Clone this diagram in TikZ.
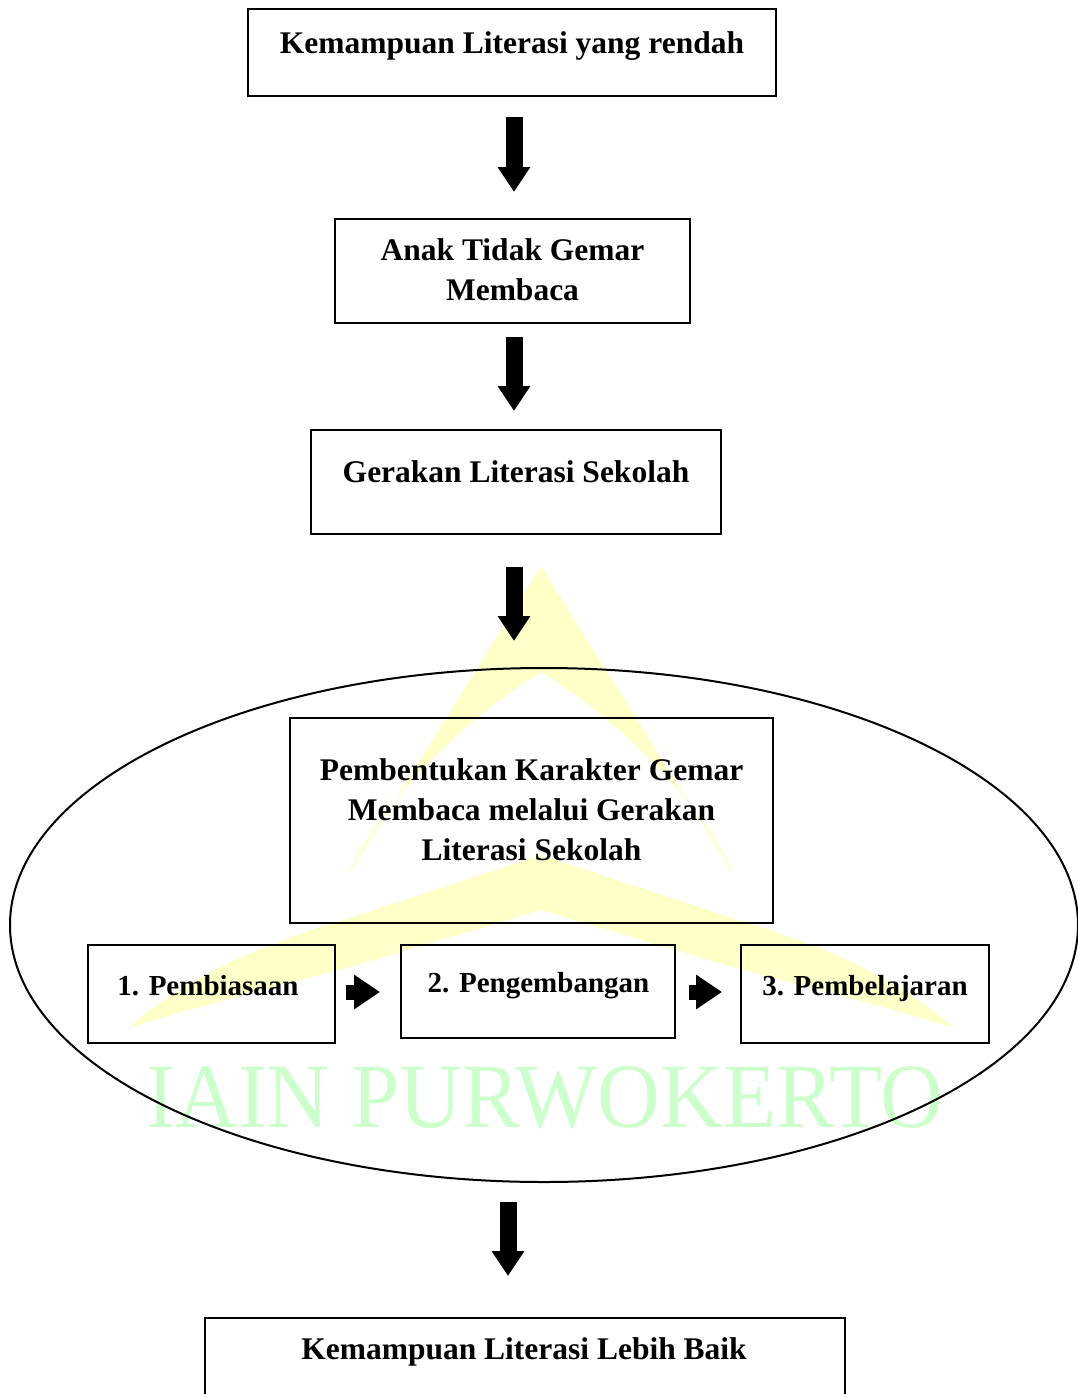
\documentclass[tikz,border=0pt]{standalone}
\usepackage{fontspec}
\setmainfont{Liberation Serif}
\usetikzlibrary{arrows.meta,shapes.geometric}
\definecolor{wmyellow}{RGB}{255,255,200}
\definecolor{wmgreen}{RGB}{204,255,204}
\begin{document}
\begin{tikzpicture}[x=1pt,y=-1pt,
  box/.style={draw, line width=2pt, inner sep=0pt},
  txt/.style={font=\fontsize{31.5}{40}\selectfont\bfseries, inner sep=0pt, align=center},
  smalltxt/.style={font=\fontsize{29}{36}\selectfont\bfseries, inner sep=0pt},
  bigarrow/.style={line width=17pt, -{Triangle[length=25pt,width=31pt]}},
  smallarrow/.style={line width=15pt, -{Triangle[length=26pt,width=33pt]}}]
\useasboundingbox (0,0) rectangle (1078,1394);
% watermark
\fill[wmyellow] (541,566) -- (348,875) .. controls (380,800) and (470,715) .. (541,672)
  .. controls (612,715) and (702,800) .. (734,875) -- cycle;
\fill[wmyellow] (128,1028) .. controls (190,975) and (260,945) .. (350,918) -- (541,855) -- (732,918)
  .. controls (822,945) and (892,975) .. (954,1028) .. controls (880,1005) and (800,985) .. (732,967)
  -- (541,910) -- (350,967) .. controls (282,985) and (202,1005) .. (128,1028) -- cycle;
\node[text=wmgreen, font=\fontsize{92}{92}\selectfont, xscale=0.945, inner sep=0pt] (wm) at (545,1098) {IAIN PURWOKERTO};
% boxes
\node[box, minimum width=528, minimum height=87] (b1) at (512,52.5) {};
\node[box, minimum width=355, minimum height=104] (b2) at (512.5,271) {};
\node[box, minimum width=410, minimum height=104] (b3) at (516,482) {};
\node[draw, ellipse, line width=2pt, inner sep=0pt, minimum width=1068, minimum height=514] (ell) at (544,925) {};
\node[box, minimum width=483, minimum height=205] (bm) at (531.5,820.5) {};
\node[box, minimum width=247, minimum height=98] (s1) at (211.5,994) {};
\node[box, minimum width=274, minimum height=93] (s2) at (538,991.5) {};
\node[box, minimum width=248, minimum height=98] (s3) at (865,994) {};
\node[box, minimum width=640, minimum height=112] (b7) at (525,1374) {};
% texts
\node[txt, anchor=base] (t1) at (512,53.5) {Kemampuan Literasi yang rendah};
\node[txt, anchor=base] (t2) at (512.5,300.5) {Anak Tidak Gemar\\Membaca};
\node[txt, anchor=base] (t3) at (516,482.5) {Gerakan Literasi Sekolah};
\node[txt, anchor=base] (tm) at (531.5,860.5) {Pembentukan Karakter Gemar\\Membaca melalui Gerakan\\Literasi Sekolah};
\node[smalltxt, anchor=base] (ts1) at (208,995.5) {1. Pembiasaan};
\node[smalltxt, anchor=base] (ts2) at (538.5,992.5) {2. Pengembangan};
\node[smalltxt, anchor=base] (ts3) at (865,995.5) {3. Pembelajaran};
\node[txt, anchor=base] (t7) at (524,1359.5) {Kemampuan Literasi Lebih Baik};
% arrows
\draw[bigarrow] ([xshift=2pt,yshift=-20pt]b1.south) -- ([xshift=1.5pt,yshift=26pt]b2.north);
\draw[bigarrow] ([xshift=1.5pt,yshift=-13pt]b2.south) -- ([xshift=-2pt,yshift=18pt]b3.north);
\draw[bigarrow] ([xshift=-2pt,yshift=-32pt]b3.south) -- ([xshift=-30pt,yshift=26pt]ell.north);
\draw[bigarrow] ([xshift=-36pt,yshift=-19pt]ell.south) -- ([xshift=-17pt,yshift=41pt]b7.north);
\draw[smallarrow] ([xshift=10pt,yshift=2pt]s1.east) -- ([xshift=-20pt,yshift=-0.5pt]s2.west);
\draw[smallarrow] ([xshift=13pt,yshift=-0.5pt]s2.east) -- ([xshift=-18pt,yshift=2pt]s3.west);
\end{tikzpicture}
\end{document}
